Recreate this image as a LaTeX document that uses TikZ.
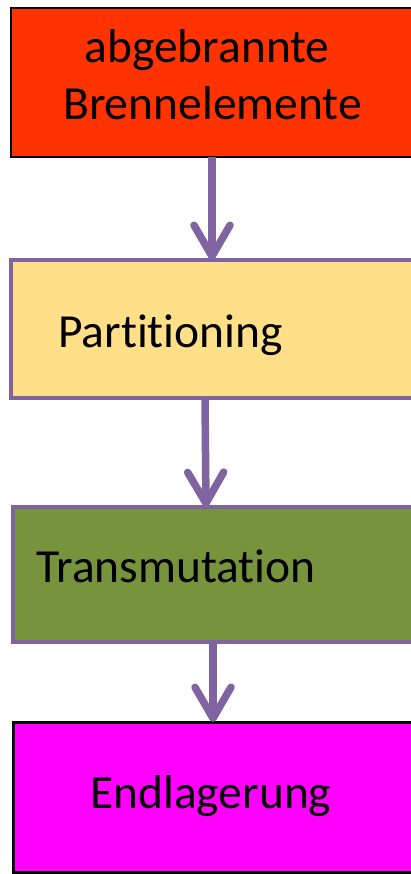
\documentclass[tikz,border=0pt]{standalone}
\usepackage{fontspec}
\setmainfont{Carlito}[RawFeature={-liga}]
\usetikzlibrary{arrows.meta}
\definecolor{boxred}{HTML}{FF3300}
\definecolor{boxyellow}{HTML}{FFDF88}
\definecolor{boxgreen}{HTML}{77933C}
\definecolor{boxmagenta}{HTML}{FF00FF}
\definecolor{arrowpurple}{HTML}{8064A2}
\tikzset{
  box/.style={rectangle, anchor=north west, inner sep=0pt, outer sep=0pt},
  lbl/.style={font=\fontsize{47.5}{57}\selectfont, inner sep=0pt, text=black},
  conn/.style={draw=arrowpurple, line width=7.5pt,
    -{Straight Barb[length=31pt, width=36pt, line cap=round, line join=round]}},
}
\begin{document}
\begin{tikzpicture}[x=1pt, y=-1pt]
\useasboundingbox (0,0) rectangle (410,874);
\node[box, fill=boxred, draw=black, line width=2pt, minimum width=402pt, minimum height=149pt] (b1) at (11,8) {};
\node[box, fill=boxyellow, draw=arrowpurple, line width=4pt, minimum width=402pt, minimum height=138pt] (b2) at (11,260) {};
\node[box, fill=boxgreen, draw=arrowpurple, line width=4pt, minimum width=400pt, minimum height=135pt] (b3) at (13,507) {};
\node[box, fill=boxmagenta, draw=black, line width=3pt, minimum width=400pt, minimum height=150pt] (b4) at (13,722) {};
\node[lbl, anchor=base] (t1a) at (207,63) {abgebrannte};
\node[lbl, anchor=base] (t1b) at (212.5,120) {Brennelemente};
\node[lbl, anchor=base west] (t2) at (58,347) {Partitioning};
\node[lbl, anchor=base west] (t3) at (36,582) {Transmutation};
\node[lbl, anchor=base west] (t4) at (90,808) {Endlagerung};
\draw[conn] ([xshift=0pt]b1.south) -- ([xshift=0pt]b2.north);
\draw[conn] ([xshift=-7pt]b2.south) -- ([xshift=-7pt]b3.north);
\draw[conn] ([xshift=0pt]b3.south) -- ([xshift=0pt]b4.north);
\end{tikzpicture}
\end{document}
